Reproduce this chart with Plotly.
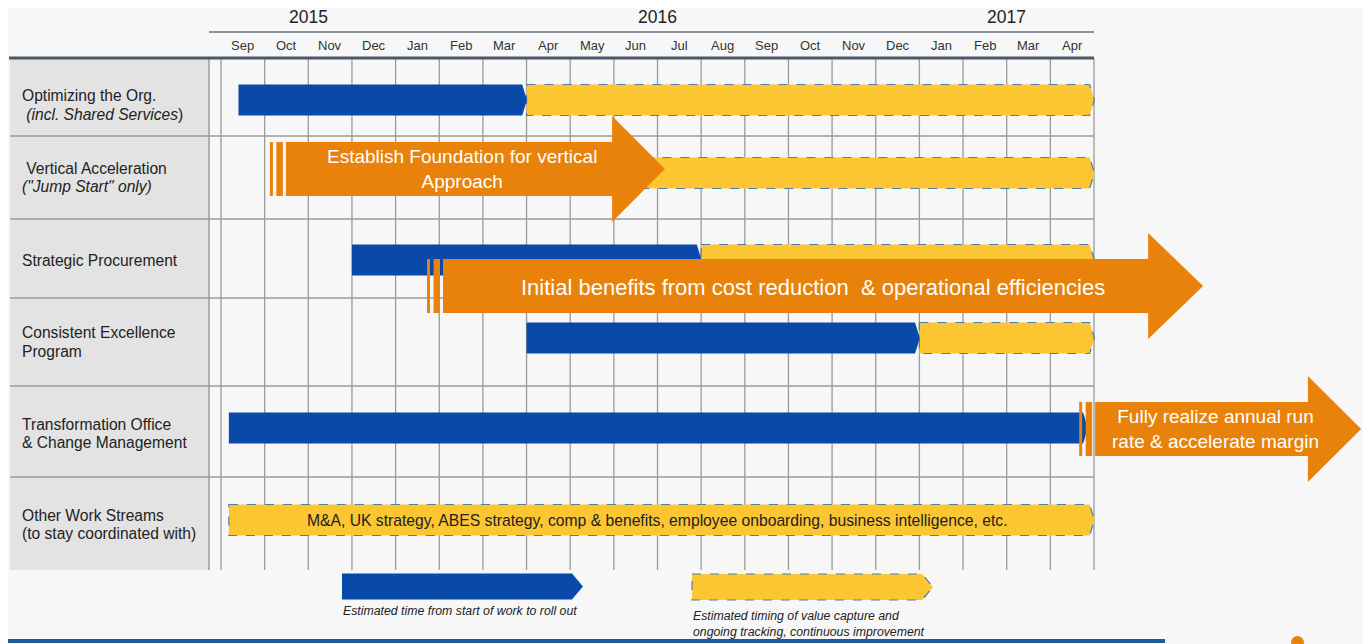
import plotly.graph_objects as go

# ---- data ----
months = ["Sep", "Oct", "Nov", "Dec", "Jan", "Feb", "Mar", "Apr", "May", "Jun",
          "Jul", "Aug", "Sep", "Oct", "Nov", "Dec", "Jan", "Feb", "Mar", "Apr"]
month_year = [2015] * 4 + [2016] * 12 + [2017] * 4
years = [2015, 2016, 2017]

rows = [
    ["Optimizing the Org.", " <i>(incl. Shared Services</i>)"],
    [" Vertical Acceleration", "<i>(\"Jump Start\" only)</i>"],
    ["Strategic Procurement"],
    ["Consistent Excellence", "Program"],
    ["Transformation Office", "& Change Management"],
    ["Other Work Streams", "(to stay coordinated with)"],
]
# month offsets from start of Sep 2015
rollout_start = [0.4, None, 3.0, 7.0, 0.18, None]
rollout_end = [7.0, None, 11.0, 16.0, 19.85, None]
capture_start = [7.0, 9.7, 11.0, 16.0, None, 0.18]
capture_end = [20.0, 20.0, 20.0, 20.0, None, 20.0]
other_text = "M&A, UK strategy, ABES strategy, comp & benefits, employee onboarding, business intelligence, etc."

arrow_text = [
    "Establish Foundation for vertical<br>Approach",
    "Initial benefits from cost reduction  & operational efficiencies",
    "Fully realize annual run<br>rate & accelerate margin",
]
arrow_start = [1.12, 4.72, 19.66]
arrow_head = [8.96, 21.24, 24.9]
arrow_tip = [10.17, 22.5, 26.12]

legend_text = [
    "Estimated time from start of work to roll out",
    "Estimated timing of value capture and<br>ongoing tracking, continuous improvement",
]

# ---- layout constants (y in page pixels, x in months) ----
MW = 43.65
X0 = 221
OFF = 8  # page body margin
BLUE = "#0849aa"
YELLOW = "#fcc632"
ORANGE = "#e8820a"
GRID = "#9a9a9a"
DASH = "#4f7ea8"
FONT = "Liberation Sans, Arial, sans-serif"

row_edges = [58, 136, 219, 298, 386, 477, 570]
label_center = [105, 177.5, 260, 342, 433.5, 524.5]
bar_center = [100, 173, 260, 338, 428, 520]
arrow_center = [169, 286, 429]
BAR_H = 15.5
LINE_GAP = 18.8


def px(p):
    return (p - X0) / MW


def path(pts):
    return "M " + " L ".join(f"{x},{y}" for x, y in pts) + " Z"


shapes = []
ann = []

# label panel
shapes.append(dict(type="rect", x0=px(10), x1=px(209), y0=row_edges[0], y1=row_edges[-1],
                   fillcolor="#e3e3e3", line=dict(width=0), layer="below"))
shapes.append(dict(type="line", x0=px(209), x1=px(209), y0=row_edges[0], y1=row_edges[-1],
                   line=dict(color=GRID, width=1.5)))
# month grid
for i in range(len(months) + 1):
    shapes.append(dict(type="line", x0=i, x1=i, y0=row_edges[0], y1=row_edges[-1],
                       line=dict(color=GRID, width=1.3)))
# row separators
for e in row_edges[1:-1]:
    shapes.append(dict(type="line", x0=px(10), x1=len(months), y0=e, y1=e,
                       line=dict(color=GRID, width=1.5)))
# header lines
shapes.append(dict(type="line", x0=px(209), x1=len(months), y0=32, y1=32,
                   line=dict(color="#6a727c", width=1.5)))
shapes.append(dict(type="line", x0=px(9), x1=len(months), y0=58, y1=58,
                   line=dict(color="#4a5868", width=3)))

# month labels
for i, m in enumerate(months):
    ann.append(dict(x=i + 0.5, y=45, text=m, showarrow=False,
                    font=dict(size=13, color="#333333")))
# year labels
for yr in years:
    idx = [i for i, v in enumerate(month_year) if v == yr]
    ann.append(dict(x=(idx[0] + idx[-1] + 1) / 2, y=17, text=str(yr), showarrow=False,
                    yanchor="middle", borderpad=0,
                    font=dict(size=17.5, color="#222222")))

# row labels, one annotation per line
for r, lines in enumerate(rows):
    n = len(lines)
    for j, line in enumerate(lines):
        ann.append(dict(x=px(20), y=label_center[r] + (j - (n - 1) / 2) * LINE_GAP, text=line,
                        showarrow=False, xanchor="left", align="left",
                        font=dict(size=15.6, color="#222222")))


def chevron(x0, x1, yc, h, tip=0.11):
    return [(x0, yc - h), (x1, yc - h), (x1 + tip, yc), (x1, yc + h), (x0, yc + h)]


# capture bars (yellow, dashed)
for r in range(len(rows)):
    if capture_start[r] is None:
        continue
    shapes.append(dict(type="path",
                       path=path(chevron(capture_start[r], capture_end[r] - 0.1, bar_center[r], BAR_H)),
                       fillcolor=YELLOW, line=dict(color=DASH, width=1.2, dash="dash")))
# rollout bars (blue)
for r in range(len(rows)):
    if rollout_start[r] is None:
        continue
    shapes.append(dict(type="path",
                       path=path(chevron(rollout_start[r], rollout_end[r] - 0.1, bar_center[r], BAR_H)),
                       fillcolor=BLUE, line=dict(width=0)))

ann.append(dict(x=10, y=bar_center[5], text=other_text, showarrow=False,
                font=dict(size=15.7, color="#222222")))

# orange arrows
for k in range(len(arrow_text)):
    yc = arrow_center[k]
    s = arrow_start[k]
    bh, hh = 27, 53
    shapes.append(dict(type="rect", x0=s, x1=s + px(X0 + 3), y0=yc - bh, y1=yc + bh,
                       fillcolor=ORANGE, line=dict(width=0)))
    shapes.append(dict(type="rect", x0=s + px(X0 + 6.5), x1=s + px(X0 + 13), y0=yc - bh, y1=yc + bh,
                       fillcolor=ORANGE, line=dict(width=0)))
    body0 = s + px(X0 + 16)
    pts = [(body0, yc - bh), (arrow_head[k], yc - bh), (arrow_head[k], yc - hh),
           (arrow_tip[k], yc), (arrow_head[k], yc + hh), (arrow_head[k], yc + bh), (body0, yc + bh)]
    shapes.append(dict(type="path", path=path(pts), fillcolor=ORANGE, line=dict(width=0)))

ann.append(dict(x=px(462), y=arrow_center[0], text=arrow_text[0], showarrow=False,
                font=dict(size=19, color="white")))
ann.append(dict(x=px(813), y=arrow_center[1] + 1, text=arrow_text[1], showarrow=False,
                font=dict(size=22, color="white")))
ann.append(dict(x=px(1215), y=arrow_center[2], text=arrow_text[2], showarrow=False,
                font=dict(size=19, color="white")))

# legend
shapes.append(dict(type="path", path=path(chevron(px(342), px(572), 586.5, 13, tip=0.25)),
                   fillcolor=BLUE, line=dict(width=0)))
shapes.append(dict(type="path", path=path(chevron(px(692), px(922), 587, 13, tip=0.25)),
                   fillcolor=YELLOW, line=dict(color=DASH, width=1.2, dash="dash")))
ann.append(dict(x=px(341), y=611, text="<i>" + legend_text[0] + "</i>", showarrow=False,
                xanchor="left", font=dict(size=12.3, color="#222222")))
ann.append(dict(x=px(691), y=623.5, text="<i>" + legend_text[1] + "</i>", showarrow=False,
                xanchor="left", align="left", font=dict(size=12.3, color="#222222")))

# bottom rule and corner dot
shapes.append(dict(type="line", x0=px(0), x1=px(1165), y0=641, y1=641,
                   line=dict(color="#1d5c9c", width=4)))
shapes.append(dict(type="circle", x0=px(1291), x1=px(1304), y0=636, y1=649,
                   fillcolor=ORANGE, line=dict(width=0)))

fig = go.Figure()
fig.update_layout(
    width=1371 - OFF, height=644 - OFF,
    margin=dict(l=0, r=0, t=0, b=0),
    paper_bgcolor="#f7f7f7", plot_bgcolor="#f7f7f7",
    xaxis=dict(range=[px(OFF), px(1371)], visible=False, fixedrange=True),
    yaxis=dict(range=[644, OFF], visible=False, fixedrange=True),
    shapes=shapes, annotations=ann,
    font=dict(family=FONT),
    showlegend=False,
)
fig.write_html("out.html")
